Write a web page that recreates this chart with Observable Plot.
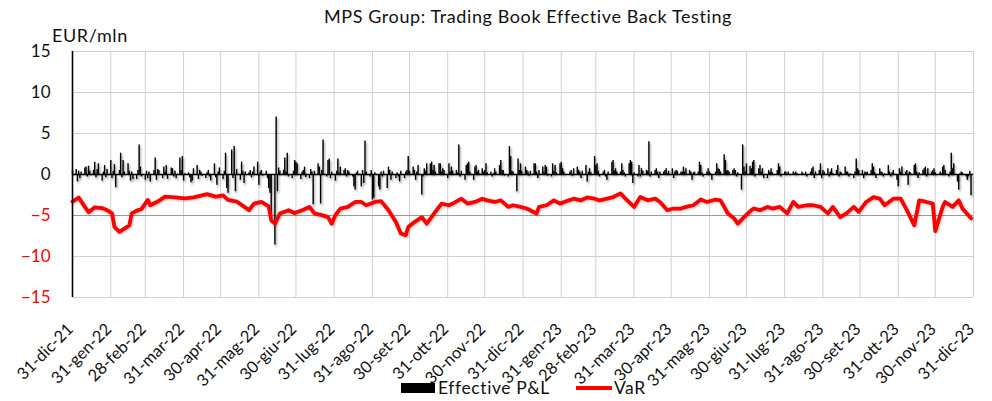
<!DOCTYPE html>
<html><head><meta charset="utf-8">
<script src="https://cdn.jsdelivr.net/npm/d3@7"></script>
<script src="https://cdn.jsdelivr.net/npm/@observablehq/plot@0.6"></script>
<style>
body{margin:0;background:#fff;font-family:Lato,sans-serif;color:#111}
#wrap{position:relative;width:992px;height:401px;overflow:hidden;background:#fff}
#chart{position:absolute;left:0;top:0;z-index:0}
#title{position:absolute;top:5px;left:528px;transform:translateX(-50%);font-size:18px;letter-spacing:0.6px;white-space:nowrap;z-index:2}
#unit{position:absolute;left:52px;top:24px;font-size:18px;letter-spacing:0.6px;z-index:2}
#legend{position:absolute;top:379px;left:401px;font-size:17.5px;letter-spacing:0.6px;display:flex;align-items:center;white-space:nowrap;line-height:18px;z-index:2}
.sw{display:inline-block;width:34px;height:10px;background:#000;margin-right:3px}
.ln{display:inline-block;width:36px;height:4px;background:#ff0000;margin:0 2px 0 26px}
.pnl{filter:drop-shadow(1px 2px 1px rgba(0,0,0,0.45))}
.varline{filter:drop-shadow(1px 1.5px 1px rgba(0,0,0,0.25))}
</style></head>
<body>
<div id="wrap">
  <div id="chart"></div>
  <div id="title">MPS Group: Trading Book Effective Back Testing</div>
  <div id="unit">EUR/mln</div>
  <div id="legend"><span class="sw"></span>Effective P&amp;L<span class="ln"></span>VaR</div>
</div>
<script>
// X-axis ticks (month ends) and their labels
const tickDates = ["2021-12-31","2022-01-31","2022-02-28","2022-03-31","2022-04-30","2022-05-31","2022-06-30","2022-07-31","2022-08-31","2022-09-30","2022-10-31","2022-11-30","2022-12-31","2023-01-31","2023-02-28","2023-03-31","2023-04-30","2023-05-31","2023-06-30","2023-07-31","2023-08-31","2023-09-30","2023-10-31","2023-11-30","2023-12-31"];
const tickLabels = ["31-dic-21","31-gen-22","28-feb-22","31-mar-22","30-apr-22","31-mag-22","30-giu-22","31-lug-22","31-ago-22","30-set-22","31-ott-22","30-nov-22","31-dic-22","31-gen-23","28-feb-23","31-mar-23","30-apr-23","31-mag-23","30-giu-23","31-lug-23","31-ago-23","30-set-23","31-ott-23","30-nov-23","31-dic-23"];
const yTicksPos = [0, 5, 10, 15];
const yTicksNeg = [-15, -10, -5];

// Daily effective P&L (EUR mln): 31-dic-21, then weekdays 3-gen-22 .. 29-dic-23 (5 per group = 1 week)
const pnlValues = [0.5,
0.6,-0.9,0.4,-0.5,0.3, 0.8,0.9,-0.3,1.0,0.4, 0.5,1.5,-0.4,0.6,1.3, -0.8,0.3,1.1,-0.4,0.6,
1.7,-0.5,0.4,1.2,-1.6, 0.5,2.6,-0.4,1.7,0.3, 1.3,0.4,-0.8,0.3,-0.6, -0.6,0.5,3.6,0.9,-0.3,
-0.7,0.4,-0.5,0.3,-0.9, 0.5,2.0,-0.7,0.6,0.5, -0.5,0.9,0.3,1.1,-0.6, 0.8,0.7,-0.3,0.4,-0.5,
2.0,0.5,2.2,-0.8,0.1, 0.2,-0.4,-1.0,-0.8,0.7, 1.1,-0.6,0.5,0.3,-0.2, -0.5,0.2,0.5,-0.3,-0.8,
1.3,-0.4,-1.3,0.3,0.8, -0.6,0.4,2.6,-1.7,-2.3, 3.0,-0.5,3.4,-2.1,0.6, -0.7,1.5,0.4,-1.1,0.3,
0.2,0.5,-0.4,0.3,0.9, 1.5,-1.3,0.3,0.5,-0.2, 0.4,-0.5,-1.7,-2.3,-5.6, -8.6,7.0,-2.1,0.8,0.4,
0.5,2.0,0.3,2.6,-0.3, -0.5,0.4,1.7,1.5,1.3, -0.6,0.3,0.5,0.9,-0.4, -0.5,0.6,0.3,-3.7,0.4,
1.3,0.9,-3.6,0.5,4.2, -0.3,1.7,1.9,-0.5,0.3, -0.8,0.4,1.9,0.2,0.9, 0.5,0.7,-0.3,0.5,0.3,
-0.3,-1.5,-1.9,0.2,0.4, -1.5,0.5,-1.1,4.1,0.3, -0.3,0.5,-3.1,-2.9,0.2, -1.5,-1.9,0.3,-0.3,0.4,
-1.7,0.9,0.5,-0.7,0.3, -0.5,0.2,-0.3,-0.9,0.4, -0.5,0.3,0.5,2.2,0.4, 0.9,0.5,-0.7,0.3,1.1,
-2.5,-0.3,0.7,0.4,1.3, 1.3,1.5,0.5,1.1,0.3, 1.3,1.3,0.3,0.7,0.5, -0.5,1.3,0.3,0.9,0.4,
0.5,0.2,3.6,-0.3,0.4, -0.7,1.1,1.3,1.5,0.3, -0.7,0.9,1.1,0.3,0.5, 0.7,0.3,0.5,1.3,0.2,
0.3,-0.3,0.1,0.7,0.3, 1.1,1.7,0.5,0.5,-0.2, -0.3,3.4,2.2,0.4,0.3, -2.1,1.9,0.5,1.3,0.4,
0.9,0.5,0.3,-0.2,0.4, 1.3,1.3,0.3,-0.5,0.5, 0.9,0.3,1.1,0.9,-0.2, -0.3,1.3,0.4,1.1,0.2,
1.3,1.5,0.7,0.3,-0.1, -0.1,0.3,0.5,-0.2,0.7, 0.9,0.5,0.3,-0.5,0.4, 1.1,-0.9,0.3,0.7,0.2,
2.2,1.1,1.3,0.4,-0.3, 0.3,0.5,-0.3,-0.7,0.3, 1.5,1.7,0.4,0.7,0.3, 0.3,1.3,0.5,0.2,-0.3,
1.3,1.7,1.5,-1.1,0.2, -0.3,1.1,-0.3,0.7,0.4, 0.5,0.4,4.0,-0.3,0.3, 0.5,0.7,0.3,-0.5,0.3,
0.3,0.5,0.7,0.1,0.4, 0.7,-0.5,0.3,0.5,0.4, 0.3,0.3,0.9,0.3,0.7, 0.5,0.3,-0.7,0.2,0.3,
0.3,1.5,1.1,0.2,-0.3, 0.3,0.7,0.3,0.1,-0.7, 0.3,1.3,0.7,0.6,0.3, 2.4,1.7,0.4,0.5,0.3,
0.5,0.7,0.5,-0.3,0.2, -1.9,3.6,0.9,0.3,1.3, 1.0,0.7,1.5,1.7,-0.3, 0.7,1.1,0.3,0.7,-0.5,
-0.5,0.5,0.3,0.7,0.2, -0.1,0.5,1.3,0.9,-0.3, 0.3,0.3,0.1,0.3,-0.1, 0.3,0.1,0.3,0.1,-0.1,
0.3,0.1,-0.1,0.3,-0.3, 0.3,0.7,0.9,-0.5,0.3, 0.5,1.3,-0.5,0.5,0.3, 0.7,-0.3,0.3,0.7,0.1,
0.5,1.1,-0.3,0.3,0.2, 0.9,0.3,0.3,-0.3,0.1, -0.5,0.3,1.9,0.7,0.5, 0.5,-0.5,0.3,0.2,0.3,
0.5,1.3,0.9,0.2,-0.5, 0.7,0.3,0.2,-0.3,0.1, 1.1,0.3,-0.3,0.2,0.5, -0.7,-1.5,0.7,0.3,0.9,
0.3,0.5,-1.3,0.3,0.2, 1.1,1.3,0.3,-0.5,0.2, 0.5,0.7,0.9,-0.3,0.7, 0.3,0.5,0.7,0.2,-0.1,
0.3,0.1,0.9,1.1,0.5, -0.3,0.3,2.6,0.7,1.3, -0.9,-1.9,0.1,0.3,0.2, -0.3,-0.7,-0.3,0.4,-2.6];

// VaR (EUR mln, shown negative)
const varDates = ["2021-12-31","2022-01-05","2022-01-10","2022-01-13","2022-01-18","2022-01-24","2022-01-28","2022-02-01","2022-02-03","2022-02-07","2022-02-11","2022-02-15","2022-02-17","2022-02-21","2022-02-25","2022-03-02","2022-03-04","2022-03-10","2022-03-16","2022-03-24","2022-04-01","2022-04-08","2022-04-19","2022-04-26","2022-05-02","2022-05-06","2022-05-13","2022-05-23","2022-05-27","2022-06-02","2022-06-08","2022-06-10","2022-06-13","2022-06-17","2022-06-24","2022-06-29","2022-07-05","2022-07-11","2022-07-15","2022-07-21","2022-07-26","2022-07-29","2022-08-01","2022-08-05","2022-08-11","2022-08-17","2022-08-22","2022-08-26","2022-09-02","2022-09-07","2022-09-13","2022-09-19","2022-09-23","2022-09-27","2022-09-29","2022-10-04","2022-10-10","2022-10-14","2022-10-20","2022-10-26","2022-11-01","2022-11-04","2022-11-11","2022-11-16","2022-11-22","2022-11-28","2022-12-02","2022-12-08","2022-12-13","2022-12-19","2022-12-23","2022-12-29","2023-01-03","2023-01-11","2023-01-13","2023-01-19","2023-01-25","2023-01-30","2023-02-06","2023-02-10","2023-02-16","2023-02-21","2023-02-27","2023-03-03","2023-03-09","2023-03-14","2023-03-20","2023-03-24","2023-03-31","2023-04-05","2023-04-11","2023-04-17","2023-04-21","2023-04-27","2023-05-02","2023-05-08","2023-05-12","2023-05-18","2023-05-24","2023-05-29","2023-06-05","2023-06-09","2023-06-15","2023-06-20","2023-06-23","2023-06-28","2023-07-04","2023-07-06","2023-07-11","2023-07-17","2023-07-21","2023-07-27","2023-08-02","2023-08-07","2023-08-11","2023-08-18","2023-08-23","2023-08-29","2023-09-04","2023-09-08","2023-09-14","2023-09-19","2023-09-25","2023-09-29","2023-10-05","2023-10-11","2023-10-16","2023-10-20","2023-10-27","2023-11-02","2023-11-07","2023-11-13","2023-11-17","2023-11-23","2023-11-28","2023-11-30","2023-12-06","2023-12-08","2023-12-14","2023-12-19","2023-12-22","2023-12-29"];
const varValues = [-3.3,-2.8,-3.95,-4.6,-4.0,-4.1,-4.35,-4.75,-6.4,-7.0,-6.6,-6.2,-4.75,-4.4,-4.2,-3.1,-3.75,-3.3,-2.7,-2.8,-2.9,-2.8,-2.4,-2.7,-2.55,-3.1,-3.3,-4.35,-3.55,-3.35,-3.9,-5.6,-6.0,-4.75,-4.35,-4.7,-4.35,-3.95,-4.75,-4.95,-5.2,-6.0,-4.95,-4.15,-3.95,-3.35,-3.35,-3.75,-3.35,-3.25,-4.35,-5.8,-7.2,-7.4,-6.4,-5.8,-5.2,-6.0,-4.75,-3.55,-3.75,-3.55,-2.95,-3.55,-3.35,-2.95,-3.15,-3.35,-3.15,-3.95,-3.75,-3.95,-4.15,-4.75,-3.95,-3.75,-3.15,-3.55,-3.15,-2.95,-3.15,-2.8,-2.95,-3.15,-2.95,-2.75,-2.3,-2.95,-3.95,-2.75,-3.15,-2.95,-3.35,-4.35,-4.15,-4.15,-3.95,-3.75,-3.05,-3.35,-3.05,-3.15,-4.75,-5.35,-6.0,-5.2,-4.35,-4.15,-4.35,-3.95,-4.15,-3.95,-4.75,-3.35,-3.95,-3.75,-3.75,-3.95,-4.75,-3.95,-5.2,-4.75,-3.95,-4.55,-3.35,-2.75,-2.95,-3.75,-2.95,-2.95,-4.35,-6.2,-3.15,-3.35,-3.55,-6.9,-3.95,-3.35,-3.95,-3.15,-4.15,-5.35];

// Build tables
const pnlDates = [new Date("2021-12-31")].concat(
  d3.utcDay.range(new Date("2022-01-03"), new Date("2023-12-30")).filter(d => d.getUTCDay() !== 0 && d.getUTCDay() !== 6)
);
const pnl = pnlValues.map((v, i) => ({date: pnlDates[i], value: v}));
const varData = varDates.map((d, i) => ({date: new Date(d), value: varValues[i]}));
const ticks = tickDates.map(d => new Date(d));
const labelMap = new Map(ticks.map((d, i) => [+d, tickLabels[i]]));

const chart = Plot.plot({
  width: 992, height: 380,
  marginTop: 51, marginBottom: 83, marginLeft: 72, marginRight: 19,
  x: {type: "utc", domain: [ticks[0], ticks[ticks.length - 1]]},
  y: {domain: [-15, 15]},
  style: {fontFamily: "Lato, sans-serif", fontSize: "15px", color: "#111", overflow: "visible"},
  marks: [
    Plot.gridY(yTicksNeg.concat(yTicksPos), {stroke: "#d0d0d0", strokeOpacity: 1}),
    Plot.gridX(ticks, {stroke: "#d0d0d0", strokeOpacity: 1}),
    Plot.ruleY([-5], {stroke: "#9a9a9a"}),
    Plot.ruleX(pnl, {x: "date", y1: 0, y2: "value", stroke: "#000", strokeWidth: 1.4, className: "pnl"}),
    Plot.ruleY([0], {stroke: "#000", strokeWidth: 1.6}),
    Plot.line(varData, {x: "date", y: "value", stroke: "#ff0000", strokeWidth: 3.8, className: "varline"}),
    Plot.ruleX([ticks[0]], {stroke: "#000", strokeWidth: 1.6}),
    Plot.axisX(ticks, {tickSize: 0, tickPadding: 29, dx: -2, tickRotate: -45, fontSize: 16.5, tickFormat: d => labelMap.get(+d), label: null}),
    Plot.axisY(yTicksPos, {tickSize: 0, tickPadding: 22, fontSize: 17, fill: "#111", label: null}),
    Plot.axisY(yTicksNeg, {tickSize: 0, tickPadding: 22, fontSize: 17, fill: "#ff0000", label: null})
  ]
});
document.getElementById("chart").appendChild(chart);
// make sure the negative y tick labels are red
d3.select(chart).selectAll('g[aria-label="y-axis tick label"] text')
  .filter(function() { return /^[-\u2212]/.test(this.textContent); })
  .attr("fill", "#ff0000").style("fill", "#ff0000");
</script>
</body></html>
